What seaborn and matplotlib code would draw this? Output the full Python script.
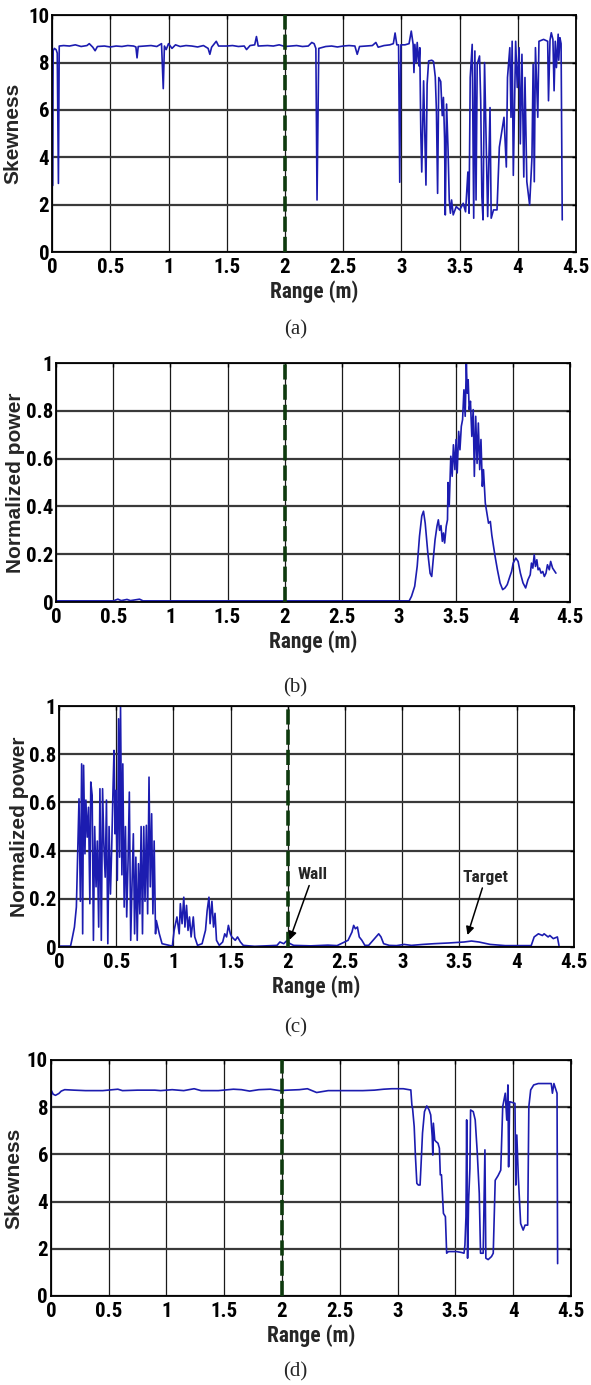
import numpy as np
import pandas as pd
import seaborn as sns
import matplotlib.pyplot as plt
from matplotlib.ticker import FuncFormatter

# (a) skewness of raw returns vs range
range_a = [0.000, 0.004, 0.010, 0.020, 0.035, 0.045, 0.055, 0.062, 0.10, 0.15, 0.20, 0.25, 0.30, 0.32, 0.35,
           0.37, 0.39, 0.45, 0.50, 0.55, 0.60, 0.65, 0.70, 0.72, 0.73, 0.74, 0.80, 0.85, 0.90, 0.94, 0.955,
           0.965, 0.98, 1.00, 1.03, 1.06, 1.10, 1.15, 1.20, 1.25, 1.30, 1.34, 1.355, 1.37, 1.41, 1.43, 1.50,
           1.55, 1.60, 1.65, 1.67, 1.70, 1.74, 1.755, 1.77, 1.85, 1.90, 1.95, 2.00, 2.05, 2.10, 2.15, 2.20,
           2.23, 2.25, 2.265, 2.275, 2.29, 2.35, 2.40, 2.45, 2.50, 2.55, 2.60, 2.62, 2.64, 2.70, 2.75, 2.78,
           2.80, 2.85, 2.90, 2.93, 2.945, 2.96, 2.975, 2.985, 2.995, 3.03, 3.065, 3.084, 3.10, 3.107, 3.115,
           3.126, 3.135, 3.149, 3.157, 3.166, 3.174, 3.19, 3.21, 3.22, 3.233, 3.26, 3.275, 3.29, 3.30, 3.31,
           3.32, 3.337, 3.35, 3.36, 3.37, 3.376, 3.387, 3.40, 3.41, 3.42, 3.43, 3.444, 3.47, 3.50, 3.53,
           3.55, 3.57, 3.58, 3.59, 3.607, 3.62, 3.63, 3.64, 3.65, 3.67, 3.68, 3.69, 3.70, 3.713, 3.725, 3.74,
           3.76, 3.77, 3.79, 3.82, 3.84, 3.88, 3.90, 3.91, 3.93, 3.94, 3.95, 3.96, 3.98, 3.994, 4.01, 4.02,
           4.034, 4.05, 4.06, 4.076, 4.10, 4.12, 4.13, 4.14, 4.15, 4.17, 4.18, 4.22, 4.255, 4.262, 4.275,
           4.286, 4.30, 4.31, 4.32, 4.33, 4.345, 4.35, 4.36, 4.37, 4.38]
skew_a = [9.2, 2.8, 8.5, 8.6, 8.55, 8.4, 2.9, 8.7, 8.72, 8.70, 8.75, 8.68, 8.72, 8.80, 8.65,
          8.50, 8.68, 8.70, 8.66, 8.70, 8.68, 8.72, 8.70, 8.66, 8.20, 8.68, 8.70, 8.72, 8.68, 8.80, 6.90,
          8.70, 8.55, 8.80, 8.60, 8.75, 8.68, 8.72, 8.70, 8.66, 8.72, 8.60, 8.35, 8.65, 8.90, 8.70, 8.70,
          8.72, 8.68, 8.70, 8.55, 8.72, 8.75, 9.10, 8.70, 8.72, 8.70, 8.75, 8.68, 8.70, 8.72, 8.68, 8.70,
          8.85, 8.80, 8.60, 2.20, 8.60, 8.68, 8.70, 8.66, 8.70, 8.72, 8.70, 8.35, 8.68, 8.70, 8.72, 8.85,
          8.65, 8.72, 8.75, 8.80, 9.25, 8.75, 8.75, 2.95, 8.75, 8.75, 8.80, 9.33, 8.77, 7.58, 8.77,
          8.00, 8.85, 7.86, 8.63, 5.00, 3.38, 7.23, 2.83, 7.09, 8.07, 8.10, 8.05, 7.40, 5.97, 2.48,
          7.37, 7.20, 5.76, 6.53, 4.78, 1.57, 6.25, 4.29, 2.20, 1.64, 2.20, 1.57, 1.92, 1.78, 2.06,
          1.70, 3.38, 1.64, 7.37, 8.77, 1.43, 8.49, 2.20, 7.93, 8.28, 6.39, 2.34, 1.36, 8.00, 5.06, 1.50,
          6.10, 1.43, 1.78, 1.78, 4.43, 5.69, 3.59, 7.37, 8.63, 5.69, 8.90, 3.24, 8.90, 6.95, 8.63, 4.57,
          8.35, 3.17, 7.37, 2.97, 1.99, 4.00, 7.93, 2.97, 8.63, 5.69, 8.90, 8.98, 8.90, 6.39, 8.95,
          9.26, 8.98, 6.81, 8.90, 7.79, 9.20, 8.10, 9.05, 8.80, 1.36]

# (b) normalized power
range_b = [0.0, 0.50, 0.54, 0.57, 0.62, 0.65, 0.73, 0.76, 3.09, 3.11, 3.138, 3.16, 3.18, 3.20, 3.215, 3.23,
           3.253, 3.273, 3.287, 3.30, 3.316, 3.333, 3.345, 3.356, 3.368, 3.38, 3.39, 3.40, 3.414, 3.425,
           3.43, 3.44, 3.454, 3.466, 3.477, 3.49, 3.50, 3.51, 3.523, 3.534, 3.546, 3.557, 3.569, 3.58, 3.59,
           3.598, 3.606, 3.615, 3.626, 3.638, 3.65, 3.66, 3.672, 3.684, 3.695, 3.707, 3.718, 3.73, 3.74,
           3.756, 3.77, 3.784, 3.80, 3.813, 3.828, 3.842, 3.862, 3.885, 3.908, 3.928, 3.948, 3.971, 3.986,
           4.0, 4.023, 4.043, 4.063, 4.086, 4.109, 4.129, 4.149, 4.16, 4.172, 4.184, 4.195, 4.207, 4.218,
           4.23, 4.244, 4.259, 4.273, 4.287, 4.30, 4.316, 4.328, 4.345, 4.374]
power_b = [0.005, 0.005, 0.012, 0.006, 0.011, 0.006, 0.012, 0.005, 0.005, 0.024, 0.066, 0.15, 0.275, 0.36,
           0.38, 0.33, 0.205, 0.12, 0.107, 0.177, 0.26, 0.317, 0.344, 0.30, 0.32, 0.254, 0.289, 0.247,
           0.317, 0.344, 0.50, 0.40, 0.61, 0.526, 0.658, 0.554, 0.68, 0.54, 0.714, 0.637, 0.735, 0.763,
           0.888, 0.777, 1.0, 0.874, 0.93, 0.805, 0.84, 0.693, 0.805, 0.526, 0.777, 0.58, 0.749, 0.554,
           0.68, 0.484, 0.554, 0.414, 0.372, 0.33, 0.337, 0.28, 0.233, 0.19, 0.135, 0.08, 0.052, 0.059,
           0.073, 0.107, 0.128, 0.163, 0.184, 0.17, 0.121, 0.08, 0.059, 0.093, 0.114, 0.163, 0.142, 0.198,
           0.149, 0.177, 0.135, 0.142, 0.121, 0.128, 0.107, 0.121, 0.156, 0.135, 0.17, 0.142, 0.121]

# (c) normalized power, wall and target marked
range_c = [0.0, 0.10, 0.114, 0.134, 0.151, 0.163, 0.174, 0.186, 0.197, 0.206, 0.214, 0.226, 0.234, 0.246,
           0.257, 0.269, 0.277, 0.289, 0.30, 0.311, 0.323, 0.334, 0.346, 0.357, 0.369, 0.38, 0.391, 0.403,
           0.414, 0.426, 0.437, 0.449, 0.46, 0.471, 0.48, 0.489, 0.497, 0.509, 0.52, 0.529, 0.537, 0.549,
           0.557, 0.569, 0.58, 0.591, 0.603, 0.614, 0.626, 0.637, 0.649, 0.66, 0.671, 0.683, 0.694, 0.706,
           0.717, 0.729, 0.74, 0.751, 0.763, 0.774, 0.786, 0.797, 0.809, 0.82, 0.831, 0.843, 0.85, 0.876,
           0.90, 0.99, 1.006, 1.03, 1.05, 1.06, 1.075, 1.09, 1.10, 1.114, 1.127, 1.14, 1.154, 1.173, 1.186,
           1.21, 1.25, 1.28, 1.294, 1.31, 1.32, 1.336, 1.35, 1.363, 1.376, 1.40, 1.43, 1.448, 1.464, 1.48,
           1.497, 1.51, 1.54, 1.56, 1.585, 1.61, 1.71, 1.905, 1.93, 1.964, 1.987, 2.02, 2.05, 2.2, 2.35,
           2.43, 2.526, 2.56, 2.575, 2.59, 2.608, 2.624, 2.647, 2.673, 2.706, 2.771, 2.794, 2.814, 2.837,
           2.886, 2.95, 3.016, 3.08, 3.18, 3.278, 3.408, 3.54, 3.605, 3.67, 3.768, 3.90, 4.06, 4.127,
           4.153, 4.19, 4.225, 4.24, 4.275, 4.29, 4.32, 4.356, 4.37]
power_c = [0.004, 0.004, 0.035, 0.083, 0.166, 0.40, 0.615, 0.19, 0.76, 0.055, 0.754, 0.387, 0.61, 0.456,
           0.58, 0.18, 0.685, 0.63, 0.028, 0.50, 0.25, 0.44, 0.083, 0.657, 0.028, 0.657, 0.43, 0.29,
           0.61, 0.014, 0.50, 0.22, 0.415, 0.65, 0.816, 0.47, 0.65, 0.277, 0.947, 0.373, 0.996, 0.30,
           0.76, 0.166, 0.50, 0.125, 0.36, 0.643, 0.028, 0.25, 0.47, 0.055, 0.373, 0.028, 0.346, 0.138,
           0.50, 0.055, 0.50, 0.19, 0.505, 0.138, 0.705, 0.25, 0.553, 0.138, 0.44, 0.055, 0.11, 0.055,
           0.014, 0.004, 0.07, 0.125, 0.055, 0.18, 0.097, 0.207, 0.083, 0.173, 0.069, 0.125, 0.042, 0.125,
           0.042, 0.007, 0.014, 0.07, 0.15, 0.207, 0.097, 0.19, 0.083, 0.14, 0.028, 0.007, 0.021, 0.055,
           0.042, 0.09, 0.055, 0.042, 0.028, 0.042, 0.021, 0.007, 0.003, 0.007, 0.021, 0.014, 0.025, 0.014,
           0.007, 0.005, 0.008, 0.006, 0.028, 0.062, 0.09, 0.076, 0.083, 0.042, 0.028, 0.007, 0.007, 0.042,
           0.055, 0.042, 0.014, 0.007, 0.006, 0.011, 0.007, 0.011, 0.014, 0.017, 0.021, 0.025, 0.021,
           0.011, 0.006, 0.006, 0.006, 0.042, 0.055, 0.048, 0.055, 0.042, 0.048, 0.035, 0.042, 0.006]

# (d) skewness after processing
range_d = [0.000, 0.005, 0.02, 0.04, 0.07, 0.09, 0.12, 0.20, 0.30, 0.45, 0.58, 0.62, 0.75, 0.90, 0.95, 1.05,
           1.15, 1.24, 1.30, 1.45, 1.58, 1.65, 1.72, 1.80, 1.90, 1.98, 2.05, 2.15, 2.22, 2.30, 2.40, 2.55,
           2.70, 2.80, 2.88, 2.95, 3.05, 3.11, 3.115, 3.124, 3.13, 3.144, 3.155, 3.167, 3.18, 3.195, 3.204,
           3.216, 3.233, 3.253, 3.273, 3.287, 3.30, 3.305, 3.31, 3.322, 3.333, 3.35, 3.362, 3.37, 3.38,
           3.388, 3.397, 3.414, 3.425, 3.44, 3.468, 3.51, 3.555, 3.575, 3.583, 3.592, 3.598, 3.606, 3.615,
           3.626, 3.632, 3.655, 3.672, 3.69, 3.707, 3.718, 3.741, 3.756, 3.764, 3.784, 3.813, 3.828, 3.845,
           3.87, 3.893, 3.91, 3.932, 3.945, 3.955, 3.961, 3.97, 3.997, 4.016, 4.023, 4.032, 4.045, 4.065,
           4.087, 4.103, 4.126, 4.136, 4.152, 4.178, 4.217, 4.28, 4.33, 4.34, 4.353, 4.366, 4.38, 4.385]
skew_d = [7.9, 8.70, 8.55, 8.50, 8.58, 8.68, 8.74, 8.72, 8.70, 8.70, 8.76, 8.70, 8.72, 8.72, 8.70, 8.74,
          8.70, 8.78, 8.70, 8.70, 8.76, 8.74, 8.68, 8.74, 8.76, 8.70, 8.72, 8.74, 8.78, 8.62, 8.70, 8.70,
          8.70, 8.72, 8.76, 8.78, 8.78, 8.73, 8.73, 8.09, 7.95, 7.18, 5.90, 4.77, 4.70, 4.70, 5.62,
          6.90, 7.81, 8.05, 7.88, 7.67, 6.75, 5.97, 7.32, 6.60, 6.54, 6.47, 6.26, 5.13, 5.13,
          4.35, 3.50, 3.36, 1.81, 1.88, 1.88, 1.88, 1.84, 1.81, 2.16, 3.36, 7.46, 1.60, 4.07,
          5.40, 7.88, 7.81, 7.46, 6.05, 4.35, 1.81, 1.81, 6.19, 1.60, 1.54, 1.67, 1.81, 4.90,
          5.10, 5.33, 8.02, 8.59, 7.45, 8.94, 5.47, 8.23, 8.19, 8.16, 4.70, 6.82, 5.05, 3.07,
          2.79, 3.00, 3.00, 8.02, 8.73, 8.94, 9.00, 9.00, 9.00, 8.59, 9.00, 8.80, 8.59, 1.37]

x_ticks = [0, 0.5, 1, 1.5, 2, 2.5, 3, 3.5, 4, 4.5]
skew_ticks = [0, 2, 4, 6, 8, 10]
power_ticks = [0, 0.2, 0.4, 0.6, 0.8, 1]
wall_range = 2.0

sns.set_style("white")
# narrow bold face for ticks, condensed families first if present
plt.rcParams['font.family'] = ['Roboto Condensed', 'DejaVu Sans Condensed', 'Liberation Sans Narrow',
                               'Liberation Sans', 'DejaVu Sans']
plt.rcParams['font.weight'] = 'bold'

LINE = '#1c1cb0'
WALL = '#0e3a0e'
WIDE = ['Liberation Sans', 'DejaVu Sans']

fig = plt.figure(figsize=(5.91, 13.85), dpi=100)

panels = [
    # x, y, ylabel, yticks, axes rect, label x, caption y, caption
    (range_a, skew_a, 'Skewness', skew_ticks, [0.088, 0.818, 0.887, 0.171], -0.056, 0.762, '(a)'),
    (range_b, power_b, 'Normalized power', power_ticks, [0.095, 0.5653, 0.870, 0.1726], -0.060, 0.503, '(b)'),
    (range_c, power_c, 'Normalized power', power_ticks, [0.100, 0.3162, 0.871, 0.174], -0.058, 0.258, '(c)'),
    (range_d, skew_d, 'Skewness', skew_ticks, [0.086, 0.0643, 0.880, 0.1704], -0.053, 0.0095, '(d)'),
]

fmt = FuncFormatter(lambda v, p: f'{v:g}')
axes = []
for xs, ys, ylab, yt, rect, lx, cy, cap in panels:
    ax = fig.add_axes(rect)
    df = pd.DataFrame({'range': xs, 'value': ys})
    sns.lineplot(data=df, x='range', y='value', ax=ax, color=LINE, lw=1.2,
                 estimator=None, sort=False, zorder=2)
    ax.axvline(wall_range, color=WALL, lw=2.6, ls=(0, (4.2, 1.4)), zorder=3)
    ax.set_xlim(0, 4.5)
    ax.set_ylim(yt[0], yt[-1])
    ax.set_xticks(x_ticks)
    ax.set_yticks(yt)
    ax.xaxis.set_major_formatter(fmt)
    ax.yaxis.set_major_formatter(fmt)
    ax.xaxis.grid(True, color='#1a1a1a', lw=0.9)
    ax.yaxis.grid(True, color='#3a3a3a', lw=1.6)
    ax.set_axisbelow(True)
    ax.tick_params(direction='in', length=3, width=1, top=True, right=True,
                   labelsize=15, colors='black')
    ax.tick_params(axis='x', pad=4)
    ax.tick_params(axis='y', pad=2)
    for s in ax.spines.values():
        s.set_color('black')
        s.set_linewidth(1.3)
    ax.set_xlabel('Range (m)', fontsize=15.5, fontweight='bold', labelpad=3)
    ax.set_ylabel(ylab, fontsize=15, fontweight='bold', family=WIDE)
    ax.yaxis.set_label_coords(lx, 0.5)
    fig.text(0.5, cy, cap, ha='center', va='center', fontsize=15,
             fontweight='normal', family=['Liberation Serif', 'DejaVu Serif'])
    axes.append(ax)

ax_c = axes[2]
arrow = dict(arrowstyle='-|>', color='black', lw=1.1, mutation_scale=12, shrinkA=0, shrinkB=0)
ax_c.annotate('Wall', xy=(2.015, 0.03), xytext=(2.22, 0.30), ha='center', va='center',
              fontsize=12.5, fontweight='bold', arrowprops=arrow)
ax_c.annotate('Target', xy=(3.57, 0.05), xytext=(3.73, 0.29), ha='center', va='center',
              fontsize=12.5, fontweight='bold', arrowprops=arrow)

plt.savefig('out.png', dpi=100)
plt.close()
